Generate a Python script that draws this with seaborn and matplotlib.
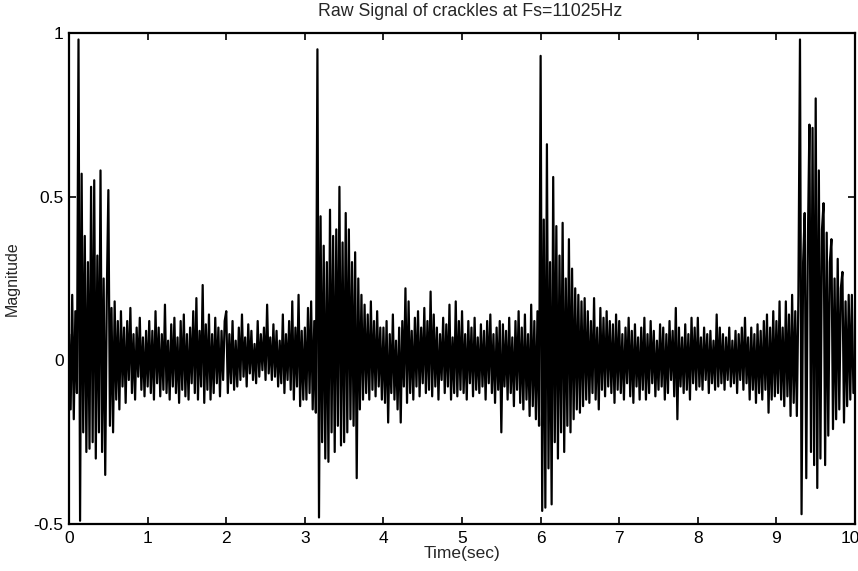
import numpy as np
import pandas as pd
import matplotlib
matplotlib.use("Agg")
import matplotlib.pyplot as plt
import matplotlib.transforms as mtransforms
import seaborn as sns

sec0 = [0.08, -0.15, 0.2, -0.18, 0.15, -0.1, 0.98, -0.49, 0.57, -0.22,
        0.38, -0.28, 0.3, -0.27, 0.53, -0.25, 0.55, -0.3, 0.32, -0.22,
        0.58, -0.28, 0.25, -0.35, 0.2, 0.52, -0.2, 0.16, -0.22, 0.18,
        -0.12, 0.12, -0.15, 0.15, -0.08, 0.1, -0.13, 0.12, -0.06, 0.16,
        -0.1, 0.08, -0.12, 0.1, -0.05, 0.13, -0.09, 0.07, -0.11, 0.09]
sec1 = [-0.08, 0.12, -0.1, 0.09, -0.12, 0.15, -0.07, 0.1, -0.11, 0.08,
        -0.09, 0.17, -0.1, 0.06, -0.12, 0.11, -0.08, 0.13, -0.1, 0.07,
        -0.13, 0.12, -0.09, 0.14, -0.11, 0.08, -0.12, 0.1, -0.07, 0.15,
        -0.1, 0.19, -0.12, 0.09, -0.08, 0.23, -0.13, 0.11, -0.09, 0.14,
        -0.12, 0.08, -0.1, 0.13, -0.07, 0.1, -0.11, 0.09, -0.06, 0.12]
sec2 = [0.15, -0.1, 0.08, -0.07, 0.12, -0.09, 0.06, -0.08, 0.1, -0.06,
        0.14, -0.05, 0.07, -0.08, 0.11, -0.04, 0.09, -0.06, 0.05, -0.07,
        0.12, -0.05, 0.08, -0.03, 0.1, -0.06, 0.17, -0.04, 0.07, -0.06,
        0.11, -0.05, 0.09, -0.08, 0.06, -0.07, 0.14, -0.1, 0.08, -0.06,
        0.12, -0.09, 0.18, -0.12, 0.1, -0.08, 0.2, -0.14, 0.09, -0.12]
sec3 = [0.1, -0.12, 0.16, -0.1, 0.18, -0.15, 0.12, -0.16, 0.95, -0.48,
        0.44, -0.25, 0.35, -0.3, 0.3, -0.31, 0.46, -0.22, 0.38, -0.28,
        0.4, -0.2, 0.53, -0.26, 0.36, -0.25, 0.45, -0.22, 0.4, -0.18,
        0.3, -0.2, 0.33, -0.36, 0.25, -0.15, 0.2, -0.12, 0.17, -0.1,
        0.14, -0.12, 0.18, -0.09, 0.12, -0.11, 0.15, -0.08, 0.1, -0.12]
sec4 = [0.1, -0.13, 0.12, -0.19, 0.08, -0.1, 0.14, -0.12, 0.06, -0.15,
        0.1, -0.19, 0.12, -0.08, 0.22, -0.13, 0.18, -0.1, 0.09, -0.12,
        0.13, -0.08, 0.15, -0.11, 0.1, -0.07, 0.16, -0.1, 0.12, -0.09,
        0.21, -0.11, 0.14, -0.08, 0.1, -0.12, 0.08, -0.06, 0.13, -0.1,
        0.11, -0.08, 0.17, -0.12, 0.07, -0.1, 0.18, -0.11, 0.12, -0.09]
sec5 = [0.15, -0.1, 0.08, -0.12, 0.12, -0.07, 0.1, -0.11, 0.13, -0.09,
        0.07, -0.1, 0.11, -0.08, 0.09, -0.12, 0.12, -0.07, 0.14, -0.1,
        0.08, -0.13, 0.1, -0.09, 0.12, -0.22, 0.11, -0.08, 0.09, -0.12,
        0.13, -0.1, 0.07, -0.14, 0.12, -0.09, 0.15, -0.13, 0.1, -0.15,
        0.14, -0.12, 0.08, -0.17, 0.17, -0.14, 0.12, -0.18, 0.15, -0.2]
sec6 = [0.93, -0.46, 0.43, -0.45, 0.66, -0.33, 0.3, -0.44, 0.56, -0.25,
        0.41, -0.3, 0.32, -0.22, 0.42, -0.28, 0.25, -0.2, 0.37, -0.22,
        0.28, -0.18, 0.22, -0.15, 0.2, -0.16, 0.18, -0.14, 0.19, -0.12,
        0.15, -0.13, 0.12, -0.1, 0.19, -0.12, 0.1, -0.15, 0.16, -0.09,
        0.13, -0.11, 0.15, -0.08, 0.12, -0.1, 0.11, -0.13, 0.14, -0.09]
sec7 = [0.12, -0.1, 0.08, -0.12, 0.1, -0.07, 0.13, -0.11, 0.09, -0.13,
        0.11, -0.08, 0.07, -0.12, 0.1, -0.09, 0.13, -0.12, 0.08, -0.1,
        0.12, -0.07, 0.09, -0.11, 0.06, -0.09, 0.11, -0.08, 0.1, -0.12,
        0.08, -0.1, 0.12, -0.06, 0.09, -0.11, 0.16, -0.18, 0.1, -0.08,
        0.07, -0.1, 0.11, -0.09, 0.08, -0.12, 0.13, -0.07, 0.1, -0.09]
sec8 = [0.13, -0.08, 0.07, -0.09, 0.1, -0.06, 0.08, -0.1, 0.09, -0.07,
        0.06, -0.09, 0.14, -0.08, 0.1, -0.07, 0.08, -0.09, 0.07, -0.06,
        0.1, -0.08, 0.06, -0.07, 0.09, -0.1, 0.08, -0.06, 0.1, -0.09,
        0.13, -0.07, 0.07, -0.12, 0.1, -0.09, 0.08, -0.13, 0.11, -0.1,
        0.09, -0.12, 0.12, -0.09, 0.14, -0.16, 0.1, -0.12, 0.15, -0.11]
sec9 = [0.12, -0.1, 0.18, -0.12, 0.1, -0.14, 0.18, -0.11, 0.14, -0.17,
        0.2, -0.13, 0.15, -0.17, 0.2, 0.98, -0.47, 0.3, 0.45, -0.36,
        0.35, 0.72, -0.28, 0.71, -0.32, 0.8, -0.39, 0.58, -0.3, 0.4,
        0.48, -0.32, 0.39, -0.23, 0.3, 0.37, -0.21, 0.25, -0.18, 0.31,
        -0.15, 0.22, 0.27, -0.19, 0.18, -0.14, 0.2, -0.12, 0.2, -0.1]

x_ticks = [0, 1, 2, 3, 4, 5, 6, 7, 8, 9, 10]
y_ticks = [-0.5, 0, 0.5, 1]
y_tick_labels = ["-0.5", "0", "0.5", "1"]
title = "Raw Signal of crackles at Fs=11025Hz"
x_label = "Time(sec)"
y_label = "Magnitude"

magnitude = np.array(sec0 + sec1 + sec2 + sec3 + sec4 + sec5 + sec6 + sec7 + sec8 + sec9)
time = np.arange(len(magnitude)) * 0.02
df = pd.DataFrame({"Time": time, "Magnitude": magnitude})

# ---- style ----
sns.set_style("ticks")
plt.rcParams["font.family"] = ["Liberation Sans", "DejaVu Sans"]

fig = plt.figure(figsize=(8.58, 5.71), dpi=100)
ax = fig.add_axes([0.0805, 0.0823, 0.916, 0.860])

sns.lineplot(data=df, x="Time", y="Magnitude", color="black",
             linewidth=1.6, ax=ax, sort=False, estimator=None)

ax.set_xlim(0, 10)
ax.set_ylim(-0.5, 1)
ax.set_xticks(x_ticks)
ax.set_xticklabels([str(v) for v in x_ticks])
ax.set_yticks(y_ticks)
ax.set_yticklabels(y_tick_labels)

ax.tick_params(direction="in", length=5, width=1.2, top=True, right=True,
               colors="black")
ax.tick_params(axis="x", labelsize=12.5, pad=5)
ax.tick_params(axis="y", labelsize=12.5, pad=4)
for s in ax.spines.values():
    s.set_visible(True)
    s.set_linewidth(1.6)
    s.set_color("black")

# keep the last x tick label inside the figure
last = ax.get_xticklabels()[-1]
last.set_transform(last.get_transform() +
                   mtransforms.ScaledTranslation(-5 / 100, 0, fig.dpi_scale_trans))

ax.set_title(title, fontsize=12.8, pad=12, x=0.51)
ax.set_xlabel(x_label, fontsize=12.5, labelpad=0)
ax.set_ylabel(y_label, fontsize=11.5, labelpad=10)

fig.savefig("out.png", dpi=100)
